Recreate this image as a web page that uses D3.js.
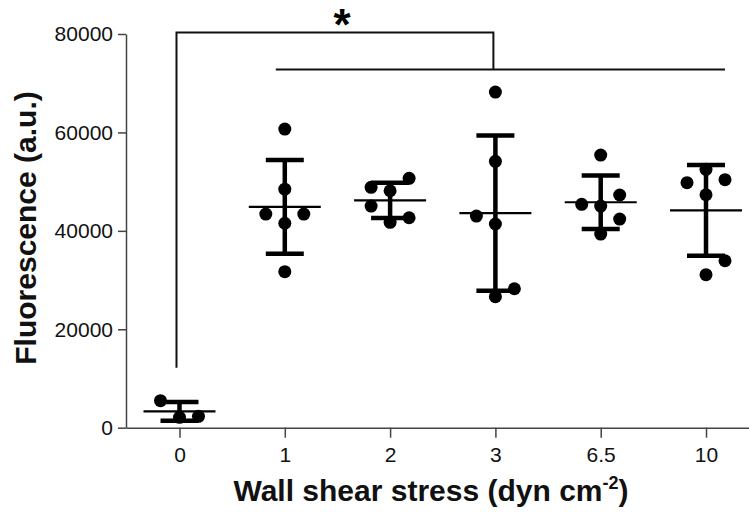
<!DOCTYPE html>
<html>
<head>
<meta charset="utf-8">
<script src="https://cdn.jsdelivr.net/npm/d3@7"></script>
<style>
  html, body { margin: 0; padding: 0; background: #fff; }
  svg { display: block; font-family: "Liberation Sans", Arial, Helvetica, sans-serif; }
</style>
</head>
<body>
<svg id="chart" width="749" height="512"></svg>
<script>
// Wall shear stress groups (dyn cm^-2)
const categories = ["0", "1", "2", "3", "6.5", "10"];

// Replicate fluorescence readings (a.u.) for each group
const group0  = [2100, 2310, 5490];
const group1  = [31700, 41550, 43400, 43400, 48460, 60690];
const group2  = [41730, 42660, 45040, 48150, 50670, 48840];
const group3  = [26620, 28240, 41390, 43010, 54120, 68200];
const group65 = [39350, 42400, 45040, 45390, 47280, 55400];
const group10 = [31090, 33930, 47340, 49780, 50390, 52500];

const yTicks = [0, 20000, 40000, 60000, 80000];

// Significance annotation: bracket from "0" to "3", line spanning "1".."10"
const sigLabel = "*";
const sigBracketLevel = 80300;
const sigSpanLevel = 72800;
const sigFootLevel = 12200;

const groups = [group0, group1, group2, group3, group65, group10];

const svg = d3.select("#chart");
const plotLeft = 126, plotBottom = 427.7, plotTop = 34;

const x = d3.scalePoint()
  .domain(categories)
  .range([plotLeft, 759.5])
  .padding(0.508);

const y = d3.scaleLinear()
  .domain([0, 80000])
  .range([plotBottom, plotTop]);

// Axes
const yAxis = svg.append("g")
  .attr("transform", `translate(${plotLeft},0)`)
  .call(d3.axisLeft(y).tickValues(yTicks).tickFormat(d3.format("d"))
    .tickSize(8).tickSizeOuter(0).tickPadding(5));

const xAxis = svg.append("g")
  .attr("transform", `translate(0,${plotBottom})`)
  .call(d3.axisBottom(x).tickSize(10).tickSizeOuter(0).tickPadding(9));

[yAxis, xAxis].forEach(g => {
  g.select(".domain").attr("stroke", "#444").attr("stroke-width", 1.5);
  g.selectAll(".tick line").attr("stroke", "#444").attr("stroke-width", 1.5);
  g.selectAll(".tick text").attr("font-size", 21).attr("fill", "#111")
    .attr("font-family", "'Liberation Sans', Arial, sans-serif");
});

// Axis titles
svg.append("text")
  .attr("transform", "translate(36,228) rotate(-90)")
  .attr("text-anchor", "middle")
  .attr("font-size", 30).attr("font-weight", "bold").attr("fill", "#111")
  .text("Fluorescence (a.u.)");

const xt = svg.append("text")
  .attr("x", 431).attr("y", 501)
  .attr("text-anchor", "middle")
  .attr("font-size", 30).attr("font-weight", "bold").attr("fill", "#111");
xt.append("tspan").text("Wall shear stress (dyn cm");
xt.append("tspan").attr("font-size", 18).attr("dy", -12).text("-2");
xt.append("tspan").attr("dy", 12).text(")");

// Dot layout: points that would overlap are pushed sideways, alternating sides
const r = 6.5, shift = 19, minDist = 18;
function layout(values) {
  const placed = [];
  let flip = 0;
  values.forEach(v => {
    const py = y(v);
    const free = dx => placed.every(p => Math.hypot(p.dx - dx, p.py - py) >= minDist);
    let dx = 0;
    if (!free(0)) {
      flip++;
      const side = flip % 2 === 1 ? 1 : -1;
      const options = [side * shift, -side * shift, side * 2 * shift, -side * 2 * shift];
      dx = options.find(free);
      if (dx === undefined) dx = options[0];
    }
    placed.push({ v, py, dx });
  });
  return placed;
}

const plot = svg.append("g");
groups.forEach((vals, i) => {
  const cx = x(categories[i]);
  const pts = layout(vals);
  plot.append("g").selectAll("circle")
    .data(pts).join("circle")
    .attr("cx", d => cx + d.dx)
    .attr("cy", d => d.py)
    .attr("r", r)
    .attr("fill", "#000");

  const m = d3.mean(vals), sd = d3.deviation(vals);
  const g = plot.append("g").attr("stroke", "#000");
  // SD whisker
  g.append("line")
    .attr("x1", cx).attr("x2", cx)
    .attr("y1", y(m + sd)).attr("y2", y(m - sd))
    .attr("stroke-width", 4.5);
  [m + sd, m - sd].forEach(v => {
    g.append("line")
      .attr("x1", cx - 19).attr("x2", cx + 19)
      .attr("y1", y(v)).attr("y2", y(v))
      .attr("stroke-width", 4.5);
  });
  // Mean
  g.append("line")
    .attr("x1", cx - 36).attr("x2", cx + 36)
    .attr("y1", y(m)).attr("y2", y(m))
    .attr("stroke-width", 2.2);
});

// Significance bracket
const sig = svg.append("g").attr("stroke", "#111").attr("stroke-width", 2).attr("fill", "none");
const bx0 = x("0") - 3, bx1 = x("3") - 2;
sig.append("path")
  .attr("d", `M${bx0},${y(sigFootLevel)}V${y(sigBracketLevel)}H${bx1}V${y(sigSpanLevel)}`);
sig.append("line")
  .attr("x1", x("1") - 9).attr("x2", x("10") + 19)
  .attr("y1", y(sigSpanLevel)).attr("y2", y(sigSpanLevel));

const star = svg.append("text")
  .attr("font-size", 44).attr("font-weight", "bold").attr("fill", "#000")
  .attr("text-anchor", "middle")
  .attr("x", 342).attr("y", 0)
  .text(sigLabel);
// centre the asterisk glyph above the bracket
const bb = star.node().getBBox();
star.attr("y", 18.5 - (bb.y + bb.height * 0.38));
</script>
</body>
</html>
